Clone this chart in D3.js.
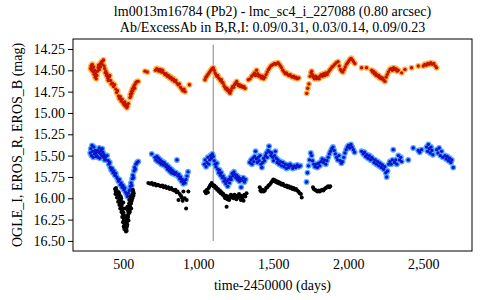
<!DOCTYPE html>
<html>
<head>
<meta charset="utf-8">
<script src="https://cdn.jsdelivr.net/npm/d3@7"></script>
<style>
  body { margin: 0; background: #fff; }
  svg text { font-family: "Liberation Serif", "DejaVu Serif", serif; fill: #000; }
</style>
</head>
<body>
<div id="chart"></div>
<script>
// Data: [day, mag]
const erosR = [
  [282,14.48],[286,14.45],[290,14.50],[293,14.43],[296,14.47],[300,14.52],[303,14.46],[306,14.55],[310,14.50],[313,14.58],
  [316,14.53],[320,14.60],[324,14.56],[328,14.51],[332,14.47],[336,14.44],[340,14.49],[344,14.43],[348,14.46],[352,14.41],
  [356,14.40],[360,14.43],[364,14.39],[368,14.38],[372,14.45],[376,14.48],[380,14.53],[384,14.51],[388,14.56],[392,14.54],
  [396,14.59],[400,14.62],[405,14.58],[410,14.56],[415,14.62],[420,14.66],[428,14.65],[435,14.69],[442,14.67],[450,14.72],
  [456,14.76],[462,14.74],[468,14.80],[474,14.83],[480,14.81],[486,14.86],[492,14.84],[498,14.88],[504,14.90],[510,14.87],
  [515,14.92],[520,14.90],[524,14.94],[528,14.92],[534,14.89],
  [545,14.82],[548,14.78],[551,14.80],[554,14.75],[557,14.77],[560,14.72],[564,14.74],[568,14.70],[572,14.68],[576,14.71],
  [580,14.66],[586,14.64],[594,14.63],[600,14.63],
  [645,14.51],[660,14.52],[715,14.50],[723,14.48],[730,14.49],[738,14.51],[746,14.49],[754,14.52],[762,14.50],[770,14.53],
  [778,14.55],[786,14.54],[794,14.57],[802,14.56],[810,14.59],[818,14.58],[826,14.61],[834,14.60],[842,14.63],[850,14.62],
  [858,14.65],[866,14.67],[874,14.66],[882,14.70],[890,14.72],[898,14.74],[905,14.72],[912,14.75],[941,14.67],
  [1045,14.61],[1052,14.58],[1060,14.56],[1068,14.54],[1076,14.52],[1084,14.50],[1092,14.48],[1100,14.47],[1106,14.50],[1112,14.53],
  [1118,14.55],[1124,14.57],[1130,14.56],[1136,14.59],[1142,14.60],[1148,14.62],[1154,14.61],[1160,14.64],[1166,14.65],[1172,14.68],
  [1178,14.70],[1184,14.72],[1190,14.71],[1196,14.74],[1202,14.73],[1208,14.76],[1212,14.77],[1218,14.74],[1224,14.71],[1230,14.69],
  [1236,14.70],[1242,14.67],[1248,14.65],[1256,14.63],[1262,14.66],[1268,14.68],[1274,14.67],[1280,14.69],[1288,14.68],[1296,14.70],
  [1304,14.69],[1312,14.71],
  [1334,14.61],[1345,14.60],[1356,14.57],[1367,14.55],[1375,14.53],[1382,14.56],[1389,14.50],[1396,14.54],[1404,14.57],[1412,14.56],
  [1420,14.59],[1428,14.57],[1436,14.60],[1444,14.58],[1452,14.55],[1460,14.52],[1468,14.49],[1476,14.47],[1484,14.45],[1492,14.44],
  [1500,14.43],[1508,14.42],[1516,14.43],[1524,14.42],[1532,14.41],[1540,14.43],[1548,14.45],[1556,14.47],[1564,14.50],[1572,14.52],
  [1580,14.54],[1588,14.53],[1596,14.55],[1604,14.56],[1612,14.55],[1620,14.57],[1628,14.58],[1636,14.57],[1644,14.59],[1652,14.58],
  [1660,14.60],[1670,14.59],
  [1723,14.77],[1730,14.71],[1738,14.66],[1746,14.57],[1752,14.53],[1756,14.51],[1762,14.55],[1768,14.58],[1775,14.60],[1782,14.57],
  [1790,14.60],[1798,14.58],[1806,14.60],[1812,14.57],[1820,14.55],[1828,14.57],[1836,14.54],[1844,14.56],[1852,14.53],[1860,14.55],
  [1868,14.52],[1876,14.50],[1884,14.48],[1892,14.46],[1900,14.45],[1910,14.43],[1920,14.41],[1932,14.40],[1940,14.45],[1948,14.49],
  [1956,14.51],[1964,14.52],[1972,14.49],[1980,14.46],[1988,14.43],[1996,14.41],[2004,14.39],[2012,14.37],[2020,14.36],[2028,14.38],
  [2036,14.40],[2044,14.42],
  [2089,14.47],[2122,14.47],[2156,14.50],[2162,14.52],[2168,14.51],[2174,14.54],[2180,14.53],[2186,14.56],[2192,14.55],[2198,14.57],
  [2204,14.56],[2210,14.59],[2216,14.58],[2222,14.60],[2228,14.59],[2234,14.61],[2240,14.62],[2245,14.63],[2252,14.58],[2260,14.55],
  [2267,14.52],[2278,14.49],[2286,14.48],[2294,14.50],[2302,14.47],[2310,14.49],[2318,14.48],[2326,14.51],[2333,14.50],[2356,14.53],
  [2378,14.49],[2422,14.47],[2467,14.45],[2500,14.45],[2510,14.43],[2520,14.44],[2530,14.42],[2540,14.43],[2550,14.41],[2560,14.43],
  [2570,14.42],[2580,14.45],[2589,14.47]
];

const erosB = [
  [280,15.47],[284,15.42],[288,15.50],[292,15.38],[296,15.45],[300,15.52],[304,15.40],[308,15.48],[312,15.44],[316,15.47],
  [320,15.51],[324,15.50],[328,15.44],[332,15.52],[336,15.46],[340,15.41],[344,15.53],[348,15.48],[352,15.44],[356,15.50],
  [360,15.42],[364,15.46],[368,15.52],[372,15.49],[376,15.55],[380,15.52],[386,15.55],[392,15.50],[400,15.56],[404,15.60],
  [410,15.58],[414,15.64],[420,15.67],[426,15.65],[432,15.70],[438,15.68],[444,15.73],[450,15.71],[456,15.75],[462,15.77],
  [468,15.80],[474,15.78],[480,15.84],[486,15.82],[492,15.87],[498,15.85],[504,15.90],[510,15.88],[516,15.93],[522,15.95],
  [528,15.98],[534,15.94],[540,15.91],[545,15.90],[548,15.86],[552,15.82],[556,15.85],[560,15.77],[564,15.73],[568,15.76],
  [572,15.68],[576,15.64],[580,15.66],[585,15.60],[592,15.58],[600,15.57],
  [690,15.48],[712,15.52],[718,15.55],[724,15.51],[730,15.57],[736,15.53],[742,15.58],[748,15.55],[754,15.60],[760,15.57],
  [766,15.61],[772,15.58],[778,15.60],[784,15.63],[790,15.61],[796,15.66],[802,15.63],[808,15.68],[814,15.65],[820,15.70],
  [826,15.67],[832,15.71],[838,15.69],[845,15.72],[852,15.70],[858,15.55],[864,15.74],[870,15.72],[876,15.77],[882,15.75],
  [888,15.80],[894,15.78],[900,15.83],[906,15.80],[912,15.82],[918,15.78],[925,15.74],[932,15.69],
  [1040,15.60],[1046,15.55],[1052,15.63],[1058,15.58],[1064,15.52],[1070,15.60],[1076,15.55],[1082,15.50],[1088,15.53],[1094,15.48],
  [1100,15.51],[1106,15.56],[1112,15.60],[1118,15.63],[1124,15.59],[1130,15.66],[1136,15.70],[1142,15.67],[1148,15.73],[1154,15.70],
  [1160,15.76],[1166,15.74],[1172,15.80],[1178,15.77],[1184,15.83],[1190,15.80],[1196,15.86],[1202,15.78],[1208,15.82],[1214,15.75],
  [1220,15.78],[1226,15.71],[1232,15.74],[1238,15.69],[1244,15.72],[1250,15.76],[1256,15.73],[1262,15.78],[1268,15.75],[1274,15.80],
  [1280,15.77],[1286,15.87],[1292,15.79],[1300,15.76],[1308,15.81],[1315,15.78],
  [1343,15.58],[1352,15.55],[1358,15.60],[1364,15.53],[1370,15.57],[1376,15.51],[1382,15.45],[1388,15.54],[1394,15.58],[1400,15.52],
  [1406,15.56],[1412,15.50],[1418,15.60],[1424,15.64],[1430,15.58],[1436,15.53],[1442,15.56],[1448,15.50],[1454,15.47],[1460,15.52],
  [1466,15.44],[1472,15.39],[1478,15.46],[1484,15.50],[1490,15.47],[1496,15.52],[1502,15.56],[1508,15.50],[1514,15.45],[1520,15.53],
  [1526,15.58],[1532,15.55],[1540,15.60],[1548,15.57],[1556,15.62],[1564,15.58],[1572,15.63],[1580,15.60],[1588,15.65],[1596,15.61],
  [1604,15.64],[1612,15.60],[1620,15.62],[1630,15.65],[1640,15.62],[1650,15.64],[1660,15.61],[1670,15.63],[1680,15.62],
  [1722,15.81],[1728,15.70],[1735,15.62],[1742,15.55],[1750,15.47],[1756,15.50],[1762,15.56],[1770,15.60],[1778,15.63],[1786,15.60],
  [1794,15.64],[1802,15.59],[1810,15.62],[1818,15.57],[1826,15.54],[1834,15.58],[1842,15.55],[1850,15.60],[1858,15.56],[1866,15.52],
  [1874,15.48],[1882,15.45],[1890,15.42],[1898,15.40],[1906,15.44],[1914,15.48],[1922,15.52],[1930,15.55],[1938,15.50],[1946,15.56],
  [1954,15.59],[1962,15.57],[1970,15.52],[1978,15.47],[1986,15.43],[1994,15.40],[2002,15.38],[2010,15.41],[2018,15.37],[2026,15.40],
  [2034,15.43],[2042,15.46],
  [2089,15.45],[2100,15.48],[2108,15.46],[2116,15.51],[2124,15.49],[2132,15.53],[2140,15.50],[2148,15.55],[2156,15.52],[2164,15.54],
  [2172,15.58],[2180,15.55],[2188,15.60],[2196,15.57],[2204,15.62],[2212,15.59],[2220,15.64],[2228,15.61],[2236,15.66],[2244,15.63],
  [2250,15.70],[2256,15.75],[2262,15.68],[2270,15.60],[2278,15.57],[2286,15.60],[2294,15.55],[2300,15.43],[2308,15.58],[2316,15.55],
  [2324,15.60],[2334,15.50],[2342,15.55],[2350,15.52],[2356,15.57],[2400,15.55],[2433,15.41],[2467,15.44],[2476,15.46],[2489,15.43],
  [2522,15.40],[2528,15.45],[2534,15.37],[2540,15.42],[2546,15.47],[2552,15.40],[2558,15.44],[2564,15.49],[2590,15.43],[2598,15.47],
  [2606,15.41],[2614,15.50],[2622,15.45],[2630,15.52],[2645,15.50],[2652,15.54],[2660,15.51],[2668,15.56],[2676,15.53],[2684,15.58],
  [2690,15.55],[2700,15.64]
];

const ogleI = [
  [445,15.89],[448,15.95],[450,15.92],[452,15.88],[455,15.90],[458,15.99],[460,15.95],[462,15.99],[465,15.93],[466,16.04],
  [468,15.98],[470,15.93],[472,16.00],[474,16.08],[475,15.96],[478,16.03],[480,16.12],[481,16.06],[483,15.98],[484,16.02],
  [486,16.00],[487,16.10],[488,16.16],[490,16.08],[492,16.14],[493,16.22],[495,16.12],[495,16.05],[497,16.18],[498,16.28],
  [500,16.22],[500,16.05],[502,16.17],[503,16.33],[504,16.26],[505,16.20],[506,16.24],[507,16.36],[508,16.30],[510,16.28],
  [511,16.22],[512,16.34],[512,16.12],[514,16.37],[515,16.28],[516,16.32],[518,16.39],[519,16.25],[520,16.35],[522,16.30],
  [523,16.38],[524,16.33],[526,16.27],[527,16.31],[528,16.24],[528,16.10],[530,16.20],[531,16.14],[532,16.22],[534,16.16],
  [535,16.26],[536,16.18],[538,16.12],[539,16.06],[540,16.14],[540,16.02],[543,16.08],[544,16.16],[546,16.10],[548,15.98],
  [549,16.04],[552,16.06],[553,16.12],[555,16.00],[557,16.03],[558,15.97],[561,16.00],[562,15.95],[564,15.90],[566,15.92],
  [568,15.97],[570,15.94],
  [667,15.82],[680,15.83],[690,15.82],[700,15.84],[710,15.83],[720,15.85],[730,15.84],[740,15.85],[750,15.86],[760,15.85],
  [770,15.87],[780,15.86],[790,15.88],[800,15.87],[810,15.89],[820,15.88],[830,15.90],[840,15.91],[848,15.90],[856,15.93],
  [862,15.92],[868,16.02],[876,15.95],[884,15.97],[890,15.99],[896,16.03],[901,15.92],[910,16.00],[919,16.12],[923,16.02],
  [934,15.92],
  [1045,15.92],[1052,15.94],[1058,15.90],[1064,15.93],[1070,15.88],[1076,15.86],[1082,15.84],[1089,15.82],[1095,15.84],[1102,15.86],
  [1108,15.85],[1114,15.88],[1120,15.87],[1126,15.90],[1132,15.89],[1138,15.92],[1144,15.91],[1150,15.94],[1156,15.93],[1162,15.96],
  [1168,15.95],[1174,15.98],[1180,16.00],[1186,15.97],[1189,16.10],[1194,16.01],[1200,15.98],[1206,16.02],[1212,15.99],[1218,15.96],
  [1224,15.99],[1230,15.97],[1236,16.00],[1242,15.96],[1248,15.98],[1254,16.01],[1260,15.97],[1266,15.99],[1272,15.95],[1278,15.98],
  [1284,16.02],[1290,15.97],[1296,15.99],[1302,16.03],[1308,15.96],[1314,15.98],[1322,15.94],
  [1410,15.87],[1414,15.91],[1420,15.92],[1428,15.90],[1436,15.92],[1444,15.91],[1452,15.88],[1460,15.87],[1468,15.85],[1476,15.84],
  [1484,15.82],[1492,15.80],[1500,15.78],[1506,15.80],[1512,15.79],[1518,15.81],[1524,15.80],[1530,15.82],[1536,15.81],[1542,15.83],
  [1548,15.82],[1556,15.84],[1564,15.83],[1572,15.85],[1580,15.86],[1588,15.85],[1596,15.87],[1604,15.86],[1612,15.88],[1620,15.87],
  [1628,15.89],[1636,15.88],[1644,15.90],[1652,15.89],[1660,15.91],[1668,15.92],[1676,15.94],[1684,15.95],[1690,15.99],
  [1765,15.87],[1770,15.89],[1778,15.90],[1786,15.91],[1794,15.92],[1802,15.91],[1810,15.92],[1818,15.91],[1826,15.90],[1834,15.91],
  [1842,15.89],[1850,15.88],[1858,15.87],[1866,15.86],[1874,15.87],[1880,15.86]
];

const xTicks = [500, 1000, 1500, 2000, 2500]
const yTicks = [14.25, 14.5, 14.75, 15.0, 15.25, 15.5, 15.75, 16.0, 16.25, 16.5]
const markerDay = 1100
const markerSpan = [14.2, 16.5]

const titleLines = [
  'lm0013m16784 (Pb2) - lmc_sc4_i_227088 (0.80 arcsec)',
  'Ab/ExcessAb in B,R,I: 0.09/0.31, 0.03/0.14, 0.09/0.23'
]

const serif = '"Liberation Serif", "DejaVu Serif", serif'

// Prepare canvas
const m = { left: 73, right: 8, top: 39, bottom: 49 }
const w = 480 - m.left - m.right
const h = 300 - m.top - m.bottom

const svg = d3.select('#chart')
  .append('svg')
  .attr('width', 480)
  .attr('height', 300)

const g = svg.append('g')
  .attr('transform', `translate(${m.left}, ${m.top})`)

// Scales
const xScale = d3.scaleLinear().domain([165, 2825]).range([0, w])
const yScale = d3.scaleLinear().domain([14.133, 16.618]).range([0, h])

// Axes
const xAxis = d3.axisBottom(xScale)
  .tickValues(xTicks)
  .tickSize(0)
  .tickPadding(8)
  .tickFormat(d3.format(','))
g.append('g')
  .attr('transform', `translate(0, ${h})`)
  .call(xAxis)
  .attr('font-family', serif)
  .attr('font-size', 14)
  .call(a => a.select('.domain').remove())

const yAxis = d3.axisLeft(yScale)
  .tickValues(yTicks)
  .tickSize(5)
  .tickPadding(3)
  .tickFormat(d3.format('.2f'))
g.append('g')
  .call(yAxis)
  .attr('font-family', serif)
  .attr('font-size', 14)
  .call(a => a.select('.domain').remove())

// Frame
g.append('rect')
  .attr('width', w)
  .attr('height', h)
  .attr('fill', 'none')
  .attr('stroke', '#000')
  .attr('stroke-width', 1)

// Marker line
g.append('line')
  .attr('x1', xScale(markerDay)).attr('x2', xScale(markerDay))
  .attr('y1', yScale(markerSpan[0])).attr('y2', yScale(markerSpan[1]))
  .attr('stroke', '#999')
  .attr('stroke-width', 1.2)

// Points
function drawSeries(data, halo, core, rHalo, rCore) {
  const s = g.append('g')
  if (halo) {
    s.selectAll('circle.halo')
      .data(data).enter()
      .append('circle')
      .attr('class', 'halo')
      .attr('cx', d => xScale(d[0]))
      .attr('cy', d => yScale(d[1]))
      .attr('r', rHalo)
      .attr('fill', halo)
  }
  s.selectAll('circle.core')
    .data(data).enter()
    .append('circle')
    .attr('class', 'core')
    .attr('cx', d => xScale(d[0]))
    .attr('cy', d => yScale(d[1]))
    .attr('r', rCore)
    .attr('fill', core)
}

drawSeries(erosR, '#ffb347', '#c41200', 3, 1.7)
drawSeries(erosB, '#55aaff', '#0a14d0', 3, 1.7)
drawSeries(ogleI, null, '#000', 0, 2)

// Titles
svg.selectAll('text.title')
  .data(titleLines).enter()
  .append('text')
  .attr('class', 'title')
  .attr('x', m.left + w / 2)
  .attr('y', (d, i) => 16 + i * 16)
  .attr('text-anchor', 'middle')
  .style('font-size', '14px')
  .text(d => d)

svg.append('text')
  .attr('x', m.left + w / 2)
  .attr('y', 290)
  .attr('text-anchor', 'middle')
  .style('font-size', '14px')
  .text('time-2450000 (days)')

svg.append('text')
  .attr('transform', `translate(22, ${m.top + h / 2}) rotate(-90)`)
  .attr('text-anchor', 'middle')
  .style('font-size', '14px')
  .text('OGLE_I, EROS_R, EROS_B (mag)')
</script>
</body>
</html>
